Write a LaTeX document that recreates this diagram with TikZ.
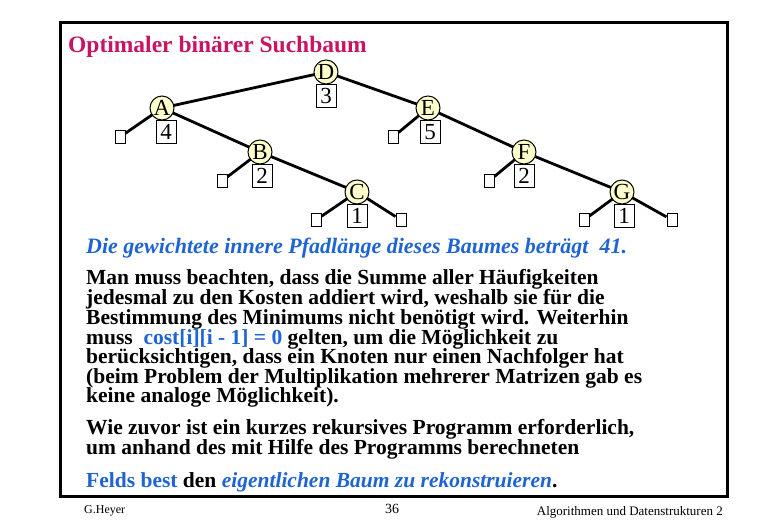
\documentclass[tikz,border=0pt]{standalone}
\usepackage{fontspec}
\usetikzlibrary{calc}
\setmainfont{Liberation Serif}
\definecolor{ttl}{RGB}{200,20,100}
\definecolor{bl}{RGB}{30,100,210}
\definecolor{cfill}{RGB}{255,255,204}
\begin{document}
\begin{tikzpicture}[x=1pt,y=-1pt,
  key/.style={circle,draw,line width=1pt,fill=cfill,minimum size=24pt,inner sep=0pt,font=\fontsize{23}{23}\selectfont},
  wbox/.style={draw,line width=1pt,fill=white,minimum width=20pt,minimum height=23pt,inner sep=0pt,font=\fontsize{23}{23}\selectfont},
  leaf/.style={draw,line width=1pt,fill=white,minimum width=10pt,minimum height=13pt,inner sep=0pt},
  edge/.style={line width=2.8pt},
  txt/.style={anchor=west,inner sep=0pt,font=\bfseries\fontsize{21.5}{21.5}\selectfont},
  every node/.append style={text depth=0pt}]
\useasboundingbox (0,0) rectangle (780,520);
\fill[white] (0,0) rectangle (780,520);
\draw[line width=3pt] (60,22) rectangle (727,496);
\coordinate (pD) at (326,72);
\coordinate (pA) at (162,108);
\coordinate (pE) at (428,108);
\coordinate (pB) at (260,152);
\coordinate (pF) at (524,152);
\coordinate (pC) at (357,192);
\coordinate (pG) at (622,192);
\node[leaf] (lA) at (120,137) {};
\node[leaf] (lB) at (222,181) {};
\node[leaf] (lE) at (393,137) {};
\node[leaf] (lF) at (489,181) {};
\node[leaf] (lC1) at (316,220) {};
\node[leaf] (lC2) at (401,220) {};
\node[leaf] (lG1) at (584,220) {};
\node[leaf] (lG2) at (672,220) {};
\draw[edge] (pD)--(pA) (pD)--(pE) (pA)--(pB) (pE)--(pF) (pB)--(pC) (pF)--(pG)
  (pA)--(lA) (pB)--(lB) (pE)--(lE) (pF)--(lF) (pC)--(lC1) (pC)--(lC2) (pG)--(lG1) (pG)--(lG2);
\foreach \n/\l/\w/\dx in {D/D/3/0,A/A/4/4,E/E/5/2,B/B/2/2,F/F/2/0,C/C/1/0,G/G/1/2}{
  \node[wbox] (w\n) at ($(p\n)+(\dx,24)$) {\w};
  \node[key] (k\n) at (p\n) {\l};
}
\node[anchor=west,inner sep=0pt,text=ttl,font=\bfseries\fontsize{23.5}{23.5}\selectfont] (title) at (68,44) {Optimaler binärer Suchbaum};
\node[txt,text=bl,font=\bfseries\itshape\fontsize{22}{22}\selectfont] (t0) at (86,246) {Die gewichtete innere Pfadlänge dieses Baumes beträgt\ \ 41.};
\node[txt] (t1) at (86,277) {Man muss beachten, dass die Summe aller Häufigkeiten};
\node[txt] (t2) at (86,297) {jedesmal zu den Kosten addiert wird, weshalb sie für die};
\node[txt] (t3) at (86,317) {Bestimmung des Minimums nicht benötigt wird. Weiterhin};
\node[txt] (t4) at (86,337) {muss\ \ \textcolor{bl}{cost[i][i - 1] = 0} gelten, um die Möglichkeit zu};
\node[txt] (t5) at (86,356) {berücksichtigen, dass ein Knoten nur einen Nachfolger hat};
\node[txt] (t6) at (86,376) {(beim Problem der Multiplikation mehrerer Matrizen gab es};
\node[txt] (t7) at (86,395) {keine analoge Möglichkeit).};
\node[txt] (t8) at (86,427) {Wie zuvor ist ein kurzes rekursives Programm erforderlich,};
\node[txt] (t9) at (86,447) {um anhand des mit Hilfe des Programms berechneten};
\node[txt] (t10) at (86,480) {\textcolor{bl}{Felds best} den \textcolor{bl}{\itshape eigentlichen Baum zu rekonstruieren}.};
\node[anchor=west,inner sep=0pt,font=\fontsize{12}{12}\selectfont] (f1) at (84,510) {G.Heyer};
\node[inner sep=0pt,font=\fontsize{14}{14}\selectfont] (f2) at (392,509) {36};
\node[anchor=east,inner sep=0pt,font=\fontsize{13}{13}\selectfont] (f3) at (723,511) {Algorithmen und Datenstrukturen 2};
\end{tikzpicture}
\end{document}
